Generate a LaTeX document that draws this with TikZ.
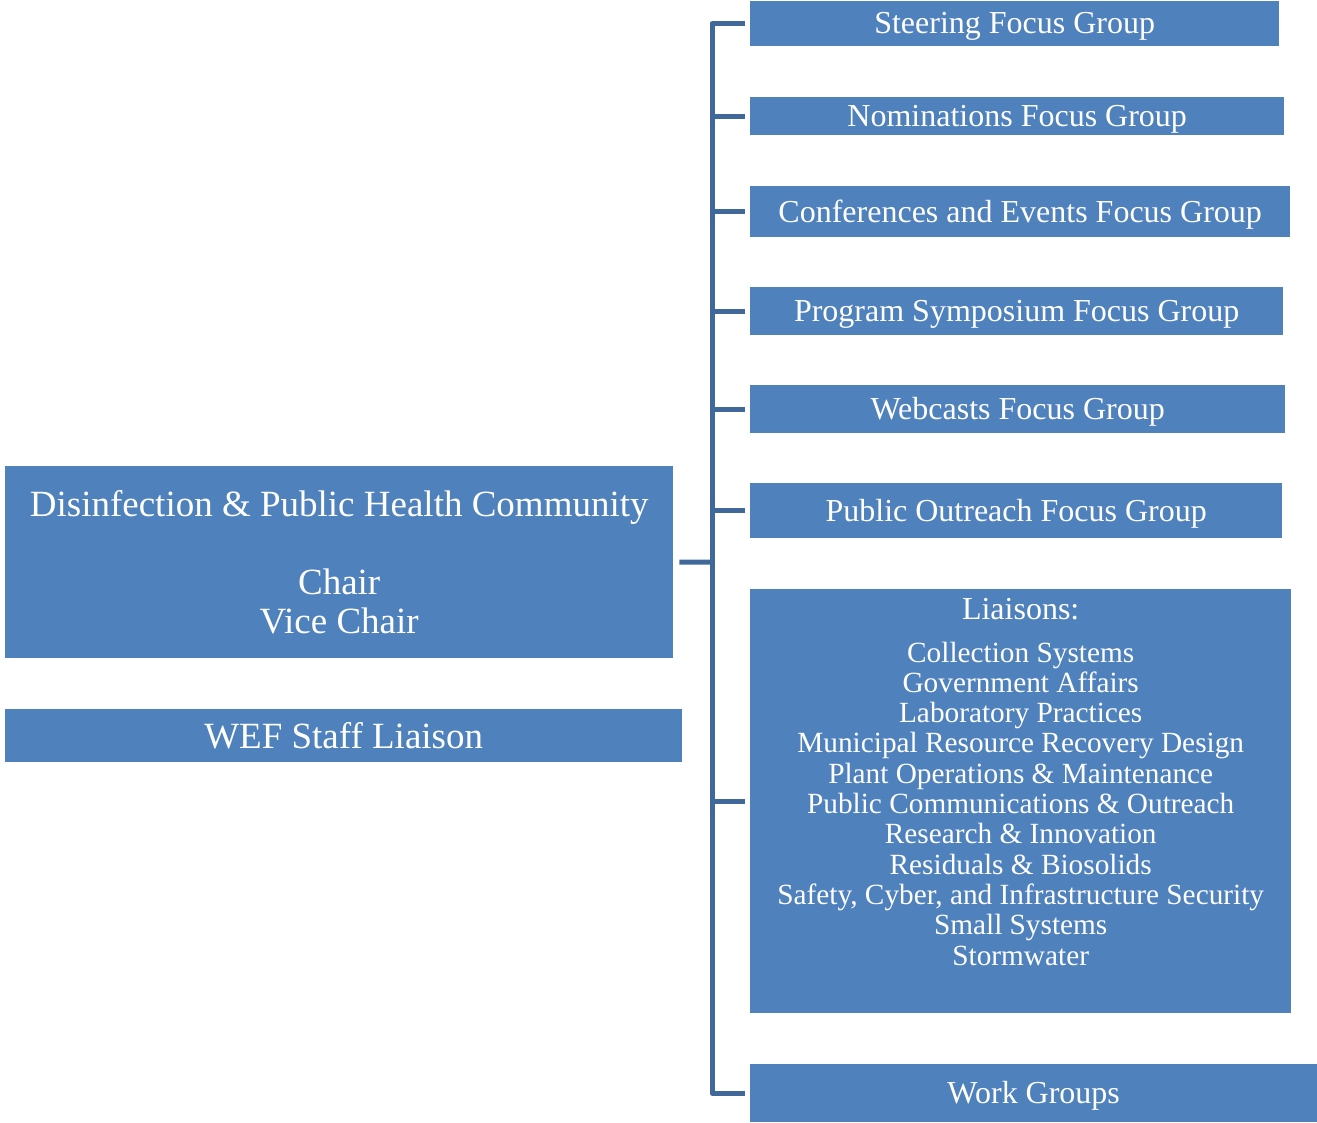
\documentclass[tikz,border=0pt]{standalone}
\usepackage{fontspec}
\setmainfont{Liberation Serif}
\definecolor{boxblue}{HTML}{4F81BD}
\definecolor{lineblue}{HTML}{41689B}

\begin{document}
\begin{tikzpicture}[
x=1pt, y=-1pt,
groupbox/.style={fill=boxblue, text=white, anchor=north west, inner sep=0pt,
  text depth=1pt, font=\fontsize{32}{36}\selectfont},
bigbox/.style={fill=boxblue, text=white, anchor=north west, inner sep=0pt,
  align=center, font=\fontsize{37}{38.7}\selectfont},
listtext/.style={text=white, inner sep=0pt, align=center,
  font=\fontsize{29.3}{30.3}\selectfont},
tie/.style={line width=5pt, lineblue, line join=round},
]
\useasboundingbox (0,0) rectangle (1317,1122);
\node[bigbox, minimum width=668pt, minimum height=192pt] (chair) at (5,466)
{Disinfection \& Public Health Community\\[38.7pt] Chair\\ Vice Chair};
\node[bigbox, minimum width=677pt, minimum height=53pt] (staff) at (5,709)
{WEF Staff Liaison};
\node[groupbox, minimum width=529pt, minimum height=45pt] (steer) at (750,1)
{Steering Focus Group};
\node[groupbox, minimum width=534pt, minimum height=38pt] (nomin) at (750,97)
{Nominations Focus Group};
\node[groupbox, minimum width=540pt, minimum height=51pt] (confer) at (750,186)
{Conferences and Events Focus Group};
\node[groupbox, minimum width=533pt, minimum height=48pt] (symp) at (750,287)
{Program Symposium Focus Group};
\node[groupbox, minimum width=535pt, minimum height=48pt] (webcast) at (750,385)
{Webcasts Focus Group};
\node[groupbox, minimum width=532pt, minimum height=55pt] (outreach) at (750,483)
{Public Outreach Focus Group};
\node[groupbox, minimum width=541pt, minimum height=424pt] (liaisons) at (750,589) {};
\node[listtext, anchor=north] (liaisonlist) at ([yshift=-9pt]liaisons.north)
{{\fontsize{32}{30.3}\selectfont Liaisons:}\\[12.3pt]
Collection Systems\\
Government Affairs\\
Laboratory Practices\\
Municipal Resource Recovery Design\\
Plant Operations \& Maintenance\\
Public Communications \& Outreach\\
Research \& Innovation\\
Residuals \& Biosolids\\
Safety, Cyber, and Infrastructure Security\\
Small Systems\\
Stormwater};
\node[groupbox, minimum width=567pt, minimum height=58pt] (work) at (750,1064)
{Work Groups};
\coordinate (bus) at (712,562);
\draw[tie] ([xshift=-5pt]steer.west) -| (bus) |- ([xshift=-5pt]work.west);
\foreach \g in {nomin,confer,symp,webcast,outreach,liaisons}
\draw[tie] (\g.west -| bus) -- ([xshift=-5pt]\g.west);
\draw[tie] ([xshift=6pt]chair.east) -- (bus);
\end{tikzpicture}
\end{document}
